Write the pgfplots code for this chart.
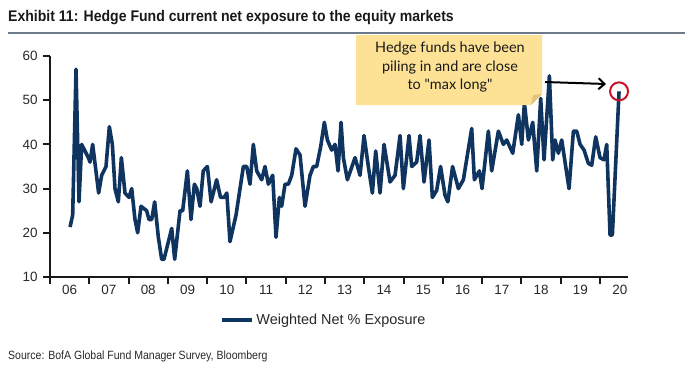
\documentclass[border=0pt]{standalone}
\usepackage{fontspec}
\setmainfont{Liberation Sans}
\newfontfamily\titlefont[FakeStretch=0.91]{Liberation Sans}
\newfontfamily\srcfont[FakeStretch=0.88]{Liberation Sans}
\newfontfamily\notefont{Lato}
\usepackage{pgfplots}
\pgfplotsset{compat=1.18}
\usetikzlibrary{arrows.meta}
\definecolor{navy}{RGB}{16,52,96}
\definecolor{txt}{RGB}{40,40,40}
\definecolor{rulegray}{RGB}{110,122,136}
\definecolor{noteyellow}{RGB}{253,226,150}
\definecolor{notefold}{RGB}{226,196,120}
\definecolor{circred}{RGB}{200,20,40}
\begin{document}
\begin{tikzpicture}[x=1bp,y=1bp]
\useasboundingbox (0,0) rectangle (689,374);
\begin{axis}[
  at={(50bp,97bp)}, anchor=south west,
  scale only axis, width=578bp, height=221bp,
  xmin=2006, xmax=2020.71, ymin=10, ymax=60,
  axis x line*=bottom, axis y line*=left,
  axis line style={-, line width=2.5bp, color=black!90},
  xtick={2006,...,2020}, xticklabels={},
  extra x ticks={2006.5,2007.5,2008.5,2009.5,2010.5,2011.5,2012.5,2013.5,2014.5,2015.5,2016.5,2017.5,2018.5,2019.5,2020.5},
  extra x tick labels={06,07,08,09,10,11,12,13,14,15,16,17,18,19,20},
  extra x tick style={major tick length=0pt, grid=none},
  ytick={10,20,30,40,50,60},
  tick align=outside,
  major tick length=7bp,
  every tick/.style={black!90, line width=2bp},
  /pgf/number format/assume math mode=true,
  tick label style={font=\fontsize{13.5}{13.5}\selectfont, text=txt},
  xticklabel style={yshift=-5bp},
  yticklabel style={xshift=-2bp},
  clip=false,
  legend style={at={(0.474,-0.195)}, anchor=center, draw=none, fill=none,
    font=\fontsize{14.5}{15}\selectfont, text=txt},
  legend image code/.code={\draw[#1, line width=4bp] (0bp,0bp) -- (30bp,0bp);},
]
\addplot[navy, line width=3.6bp, line join=round] coordinates {
(2006.51,21.3) (2006.577,24) (2006.662,57) (2006.738,27) (2006.806,40)
(2006.976,37) (2007.018,36) (2007.086,40) (2007.238,29) (2007.315,33)
(2007.425,35) (2007.510,44) (2007.587,40) (2007.654,30) (2007.739,27)
(2007.816,37) (2007.909,29) (2008.011,28) (2008.079,30) (2008.163,23)
(2008.231,20) (2008.316,26) (2008.460,25) (2008.520,23) (2008.588,23)
(2008.664,27) (2008.757,19) (2008.842,14) (2008.901,14) (2009.097,21)
(2009.173,14) (2009.309,25) (2009.377,25) (2009.496,34) (2009.589,23)
(2009.674,31) (2009.734,30) (2009.818,26) (2009.90,34) (2010.005,35)
(2010.10,27) (2010.24,32) (2010.34,28) (2010.43,28) (2010.50,29)
(2010.58,18) (2010.734,24) (2010.921,35) (2011.006,35) (2011.090,31)
(2011.175,40) (2011.260,34) (2011.387,32) (2011.472,35) (2011.557,31)
(2011.667,33) (2011.752,19) (2011.837,28) (2011.896,26) (2011.981,31)
(2012.066,31) (2012.151,33) (2012.261,39) (2012.363,37.6) (2012.490,26)
(2012.617,33) (2012.702,35) (2012.787,35) (2012.889,39.5) (2012.982,45)
(2013.059,41) (2013.169,38.7) (2013.254,40) (2013.330,34) (2013.407,45)
(2013.466,37) (2013.568,32) (2013.763,37) (2013.890,33) (2013.992,42)
(2014.102,35) (2014.204,29) (2014.289,38.5) (2014.399,29) (2014.501,40)
(2014.654,31.5) (2014.781,33) (2014.908,42) (2014.993,30) (2015.137,42)
(2015.205,35) (2015.332,36) (2015.417,42) (2015.519,31.5) (2015.646,41)
(2015.731,28) (2015.841,29.6) (2015.940,35) (2016.053,28.5) (2016.125,27)
(2016.245,35) (2016.393,30) (2016.520,32) (2016.732,43.6) (2016.800,32)
(2016.927,34) (2016.995,30) (2017.156,43) (2017.241,34) (2017.411,43)
(2017.538,40) (2017.623,41) (2017.776,38) (2017.920,46.7) (2018.005,40)
(2018.073,49.4) (2018.175,41) (2018.285,45) (2018.387,34) (2018.488,50.4)
(2018.573,36.5) (2018.709,55.5) (2018.794,36.5) (2018.853,41) (2018.938,38)
(2019.023,41) (2019.209,30) (2019.320,43) (2019.405,43) (2019.490,40)
(2019.592,38.7) (2019.701,35.7) (2019.786,35.3) (2019.888,41.7) (2019.998,37)
(2020.100,36.5) (2020.168,40) (2020.253,19.5) (2020.312,19.5) (2020.482,52)
};
\addlegendentry{Weighted Net \% Exposure}
\draw[circred, line width=2bp] (axis cs:2020.482,52) circle[radius=9bp];
\end{axis}
% title and rule
\node[anchor=base west, inner sep=0, text=black!90] at (8,353)
  {\titlefont\bfseries\fontsize{15.5}{15.5}\selectfont Exhibit 11: Hedge Fund current net exposure to the equity markets};
\draw[rulegray, line width=2bp] (8,341) -- (685,341);
% annotation box
\fill[noteyellow] (356,269) -- (356,339) -- (542,339) -- (542,280) -- (531,269) -- cycle;
\fill[notefold] (531,269) -- (542,280) -- (533,279) -- cycle;
\node[align=center, inner sep=0, text=black!90, font=\notefont\fontsize{14.5}{19}\selectfont] at (450,307)
  {Hedge funds have been\\piling in and are close\\to "max long"};
\draw[black, line width=2bp, -{Straight Barb[length=6bp, width=11bp]}] (545,292) -- (606,290);
% source
\node[anchor=base west, inner sep=0, text=txt] at (8,15)
  {\srcfont\fontsize{12}{12}\selectfont Source: BofA Global Fund Manager Survey, Bloomberg};
\end{tikzpicture}
\end{document}
